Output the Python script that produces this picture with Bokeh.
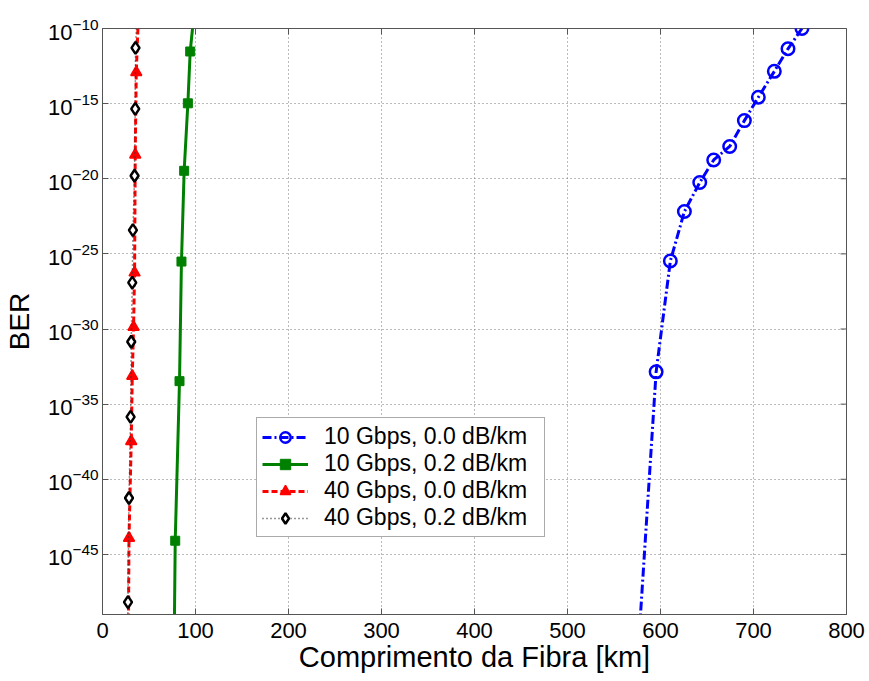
import math
from bokeh.plotting import figure
from bokeh.models import FixedTicker, Legend, LegendItem, ColumnDataSource
from bokeh.embed import file_html
from bokeh.resources import INLINE

# ---------------- data ----------------
# 10 Gbps, 0.0 dB/km  (markers)
b10_0_km = [752.1, 737.1, 722.4, 705.2, 690.2, 674.4, 657.2, 642.2, 625.7, 610.6, 595.3]
b10_0_ber = [1e-10, 10**-11.35, 10**-12.85, 10**-14.58, 10**-16.13, 10**-17.85,
             10**-18.75, 10**-20.25, 10**-22.18, 10**-25.47, 10**-32.85]
# curve continues below the last marker
b10_0_tail_km = [578.5]
b10_0_tail_ber = [1e-49]

# 10 Gbps, 0.2 dB/km
b10_2_km = [94.3, 91.8, 87.8, 84.9, 82.8, 78.2]
b10_2_ber = [10**-11.53, 10**-14.98, 10**-19.47, 10**-25.51, 10**-33.47, 10**-44.09]
b10_2_head_km = [96.8]
b10_2_head_ber = [1e-10]
b10_2_tail_km = [77.4]
b10_2_tail_ber = [1e-49]

# 40 Gbps, 0.0 dB/km
b40_0_km = [36.3, 35.2, 34.5, 33.4, 32.0, 30.9, 28.5]
b40_0_ber = [10**-12.91, 10**-18.4, 10**-26.25, 10**-29.87, 10**-33.13, 10**-37.47, 10**-43.91]
b40_0_head_km = [38.1]
b40_0_head_ber = [1e-10]
b40_0_tail_km = [28.0]
b40_0_tail_ber = [1e-49]

# 40 Gbps, 0.2 dB/km
b40_2_km = [35.5, 35.2, 34.5, 32.7, 32.0, 30.9, 30.2, 28.5, 27.4]
b40_2_ber = [10**-11.29, 10**-15.35, 10**-19.8, 10**-23.42, 10**-26.91, 10**-30.85,
             10**-35.85, 10**-41.25, 10**-48.18]
b40_2_head_km = [36.4]
b40_2_head_ber = [1e-10]
b40_2_tail_km = [27.3]
b40_2_tail_ber = [1e-49]

x_ticks = [0, 100, 200, 300, 400, 500, 600, 700, 800]
y_ticks = [1e-45, 1e-40, 1e-35, 1e-30, 1e-25, 1e-20, 1e-15, 1e-10]
labels = ["10 Gbps, 0.0 dB/km", "10 Gbps, 0.2 dB/km",
          "40 Gbps, 0.0 dB/km", "40 Gbps, 0.2 dB/km"]
x_min, x_max = 0, 800
y_min, y_max = 1e-49, 1e-10

FONT = "Liberation Sans"
AX = "#555555"

p = figure(width=869, height=681, x_range=(x_min, x_max), y_range=(y_min, y_max),
           y_axis_type="log", output_backend="svg", toolbar_location=None,
           min_border_left=101, min_border_right=23, min_border_top=28,
           min_border_bottom=67, background_fill_color="white",
           border_fill_color="white")

p.outline_line_color = AX
p.outline_line_width = 1

# axes
p.xaxis.ticker = FixedTicker(ticks=x_ticks)
p.yaxis.ticker = FixedTicker(ticks=y_ticks)
for ax in (p.xaxis[0], p.yaxis[0]):
    ax.major_tick_in = 6
    ax.major_tick_out = 0
    ax.minor_tick_in = 0
    ax.minor_tick_out = 0
    ax.axis_line_color = AX
    ax.major_tick_line_color = AX
    ax.major_label_text_font = FONT
    ax.major_label_text_font_size = "22px"
    ax.major_label_text_color = "black"
    ax.axis_label_text_font = FONT
    ax.axis_label_text_font_style = "normal"
    ax.axis_label_text_color = "black"

p.xaxis.axis_label = "Comprimento da Fibra [km]"
p.xaxis.axis_label_text_font_size = "29px"
p.xaxis.major_label_standoff = 8
p.xaxis.axis_label_standoff = 0
p.yaxis.axis_label = "BER"
p.yaxis.axis_label_text_font_size = "28px"
p.yaxis.major_label_standoff = 4
p.yaxis.axis_label_standoff = 10

# grid
for g in (p.xgrid[0], p.ygrid[0]):
    g.grid_line_color = "#777777"
    g.grid_line_dash = "1 3"
    g.grid_line_width = 1
    g.minor_grid_line_color = None
p.xgrid.ticker = FixedTicker(ticks=x_ticks)
p.ygrid.ticker = FixedTicker(ticks=y_ticks)

# tick marks on the top and right edges of the box (half of each dash is clipped)
p.scatter(x=x_ticks, y=[y_max] * len(x_ticks), marker="dash", angle=math.pi / 2,
          size=12, line_color=AX, line_width=1)
p.scatter(x=[x_max] * len(y_ticks), y=y_ticks, marker="dash",
          size=12, line_color=AX, line_width=1)

# series
s1_line = ColumnDataSource(dict(x=b10_0_km + b10_0_tail_km, y=b10_0_ber + b10_0_tail_ber))
s1_mark = ColumnDataSource(dict(x=b10_0_km, y=b10_0_ber))
s2_line = ColumnDataSource(dict(x=b10_2_head_km + b10_2_km + b10_2_tail_km,
                                y=b10_2_head_ber + b10_2_ber + b10_2_tail_ber))
s2_mark = ColumnDataSource(dict(x=b10_2_km, y=b10_2_ber))
s3_line = ColumnDataSource(dict(x=b40_0_head_km + b40_0_km + b40_0_tail_km,
                                y=b40_0_head_ber + b40_0_ber + b40_0_tail_ber))
s3_mark = ColumnDataSource(dict(x=b40_0_km, y=b40_0_ber))
s4_line = ColumnDataSource(dict(x=b40_2_head_km + b40_2_km + b40_2_tail_km,
                                y=b40_2_head_ber + b40_2_ber + b40_2_tail_ber))
s4_mark = ColumnDataSource(dict(x=b40_2_km, y=b40_2_ber))

BLUE, GREEN, RED = "#0000ff", "#008000", "#ff0000"

l1 = p.line("x", "y", source=s1_line, line_color=BLUE, line_width=3, line_dash="9 3 2 3")
m1 = p.scatter("x", "y", source=s1_mark, marker="circle", size=12.5, fill_color=None,
               line_color=BLUE, line_width=2.5)
l2 = p.line("x", "y", source=s2_line, line_color=GREEN, line_width=3)
m2 = p.scatter("x", "y", source=s2_mark, marker="square", size=9, fill_color=GREEN,
               line_color=GREEN, line_width=1)
l3 = p.line("x", "y", source=s3_line, line_color=RED, line_width=3, line_dash="6 3")
m3 = p.scatter("x", "y", source=s3_mark, marker="triangle", size=11, fill_color=RED,
               line_color=RED, line_width=1.5)
l4 = p.line("x", "y", source=s4_line, line_color="#333333", line_width=1.5, line_dash="1 3")
m4 = p.scatter("x", "y", source=s4_mark, marker="diamond", size=12, fill_color="white",
               line_color="black", line_width=2.5)

legend = Legend(items=[
    LegendItem(label=labels[0], renderers=[l1, m1]),
    LegendItem(label=labels[1], renderers=[l2, m2]),
    LegendItem(label=labels[2], renderers=[l3, m3]),
    LegendItem(label=labels[3], renderers=[l4, m4]),
], location=(154, 77))
legend.label_text_font = FONT
legend.label_text_font_size = "23px"
legend.label_text_color = "black"
legend.glyph_width = 46
legend.glyph_height = 26
legend.label_height = 26
legend.label_width = 215
legend.label_standoff = 16
legend.spacing = 0
legend.padding = 5
legend.margin = 0
legend.border_line_color = AX
legend.border_line_width = 1
legend.background_fill_color = "white"
legend.background_fill_alpha = 1
p.add_layout(legend, "center")

open("out.html", "w").write(file_html(p, INLINE))
